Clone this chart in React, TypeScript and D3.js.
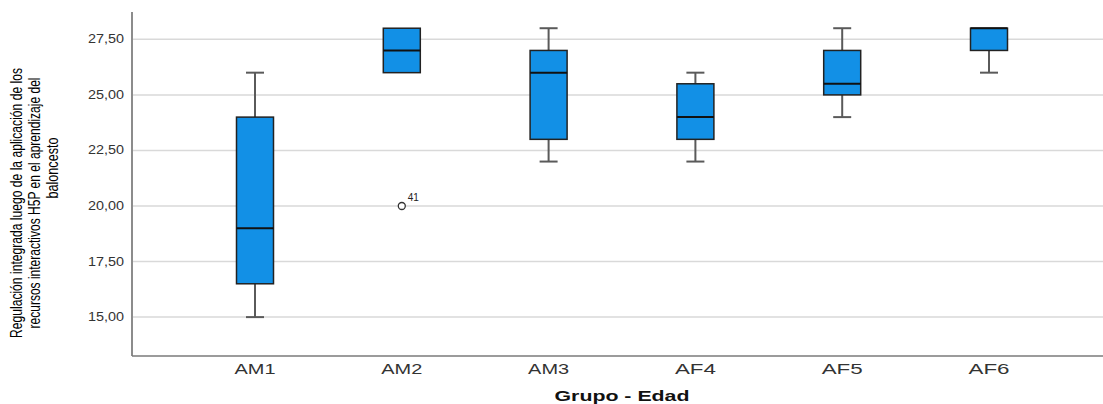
import React from "react";
import * as d3 from "d3";

const categories = ["AM1", "AM2", "AM3", "AF4", "AF5", "AF6"];
const whiskerLow = [15, 26, 22, 22, 24, 26];
const q1 = [16.5, 26, 23, 23, 25, 27];
const median = [19, 27, 26, 24, 25.5, 28];
const q3 = [24, 28, 27, 25.5, 27, 28];
const whiskerHigh = [26, 28, 28, 26, 28, 28];
const outliers = [{ cat: "AM2", value: 20, label: "41" }];
const yTicks = [15, 17.5, 20, 22.5, 25, 27.5];
const yTitleLines = [
  "Regulación integrada luego de la aplicación de los",
  "recursos interactivos H5P en el aprendizaje del",
  "baloncesto",
];
const xTitle = "Grupo - Edad";

const W = 1103;
const H = 404;
const left = 132;
const right = 1103;
const top = 12;
const bottom = 356;

export default function App() {
  const y = d3.scaleLinear().domain([13.25, 28.73]).range([bottom, top]);
  const x = d3.scaleBand().domain(categories).range([181.6, 1062.4]);
  const bw = 37;
  const cap = 18;
  const fmt = (v: number) => v.toFixed(2).replace(".", ",");
  const titleLens = [270, 251, 61];
  const titleX = [22, 40, 58];
  const titleCY = [203, 203, 168];

  return (
    <svg
      width={W}
      height={H}
      style={{ position: "absolute", left: 0, top: 0, background: "#fff" }}
      fontFamily="Liberation Sans, Arial, sans-serif"
    >
      {yTicks.map((t) => (
        <line key={t} x1={left} x2={right} y1={y(t)} y2={y(t)} stroke="#d9d9d9" strokeWidth={1.5} />
      ))}
      <line x1={left} x2={left} y1={top} y2={bottom} stroke="#8c8c8c" strokeWidth={2} />
      <line x1={left} x2={right} y1={bottom} y2={bottom} stroke="#7a7a7a" strokeWidth={1.5} />
      {yTicks.map((t) => (
        <text key={t} x={124} y={y(t) + 4} textAnchor="end" fontSize={12} fill="#333" textLength={36} lengthAdjust="spacingAndGlyphs">
          {fmt(t)}
        </text>
      ))}
      {categories.map((c, i) => {
        const cx = (x(c) as number) + x.bandwidth() / 2;
        return (
          <g key={c}>
            {whiskerHigh[i] > q3[i] && (
              <>
                <line x1={cx} x2={cx} y1={y(q3[i])} y2={y(whiskerHigh[i])} stroke="#5a5a5a" strokeWidth={2} />
                <line x1={cx - cap / 2} x2={cx + cap / 2} y1={y(whiskerHigh[i])} y2={y(whiskerHigh[i])} stroke="#5a5a5a" strokeWidth={2} />
              </>
            )}
            {whiskerLow[i] < q1[i] && (
              <>
                <line x1={cx} x2={cx} y1={y(q1[i])} y2={y(whiskerLow[i])} stroke="#5a5a5a" strokeWidth={2} />
                <line x1={cx - cap / 2} x2={cx + cap / 2} y1={y(whiskerLow[i])} y2={y(whiskerLow[i])} stroke="#5a5a5a" strokeWidth={2} />
              </>
            )}
            <rect
              x={cx - bw / 2}
              y={y(q3[i])}
              width={bw}
              height={y(q1[i]) - y(q3[i])}
              fill="#1290e6"
              stroke="#222"
              strokeWidth={1.5}
            />
            <line x1={cx - bw / 2} x2={cx + bw / 2} y1={y(median[i])} y2={y(median[i])} stroke="#111" strokeWidth={2} />
          </g>
        );
      })}
      {outliers.map((o) => {
        const cx = (x(o.cat) as number) + x.bandwidth() / 2;
        return (
          <g key={o.label}>
            <circle cx={cx} cy={y(o.value)} r={3.5} fill="#fff" stroke="#333" strokeWidth={1.3} />
            <text x={cx + 6} y={y(o.value) - 5} fontSize={10} fill="#222">
              {o.label}
            </text>
          </g>
        );
      })}
      {categories.map((c) => {
        const cx = (x(c) as number) + x.bandwidth() / 2;
        return (
          <text key={c} x={cx} y={374} textAnchor="middle" fontSize={15} fill="#333" textLength={41} lengthAdjust="spacingAndGlyphs">
            {c}
          </text>
        );
      })}
      <text x={622} y={401} textAnchor="middle" fontSize={15} fontWeight="bold" fill="#111" textLength={135} lengthAdjust="spacingAndGlyphs">
        {xTitle}
      </text>
      {yTitleLines.map((l, i) => (
        <text
          key={i}
          transform={`translate(${titleX[i]},${titleCY[i]}) rotate(-90)`}
          textAnchor="middle"
          fontSize={17}
          fill="#000"
          fontFamily="Liberation Sans Narrow, Arial Narrow, Liberation Sans, sans-serif"
          textLength={titleLens[i]}
          lengthAdjust="spacingAndGlyphs"
        >
          {l}
        </text>
      ))}
    </svg>
  );
}
